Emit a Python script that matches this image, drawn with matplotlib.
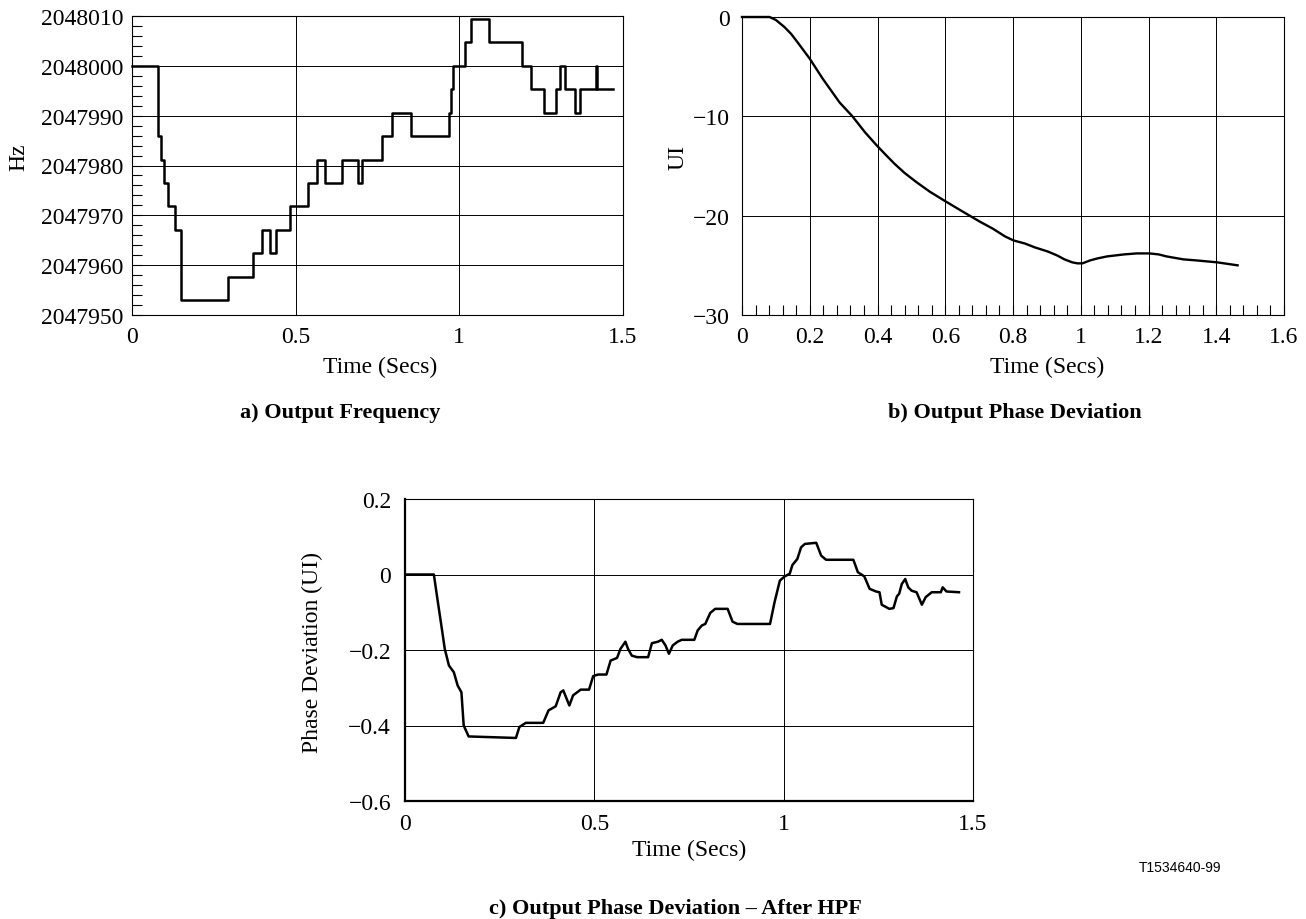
import matplotlib.pyplot as plt
from matplotlib.ticker import FuncFormatter, MultipleLocator

# a) output frequency: step changes (start time, frequency)
freq_t = [0.0, 0.078, 0.0899, 0.0963, 0.1092, 0.1323, 0.1503, 0.2928, 0.3699,
          0.3981, 0.4212, 0.4392, 0.4841, 0.5368, 0.5638, 0.5882, 0.6421, 0.6896,
          0.7025, 0.7641, 0.7937, 0.8527, 0.9683, 0.9747, 0.9811, 1.0158, 1.0364,
          1.0903, 1.1905, 1.2187, 1.2573, 1.2958, 1.3073, 1.3215, 1.3536, 1.3677,
          1.4178, 1.4195, 1.4704]
freq_hz = [2048000, 2047985.9, 2047981.2, 2047976.5, 2047971.8, 2047967.1,
           2047953.0, 2047957.7, 2047962.4, 2047967.1, 2047962.4, 2047967.1,
           2047971.8, 2047976.5, 2047981.2, 2047976.5, 2047981.2, 2047976.5,
           2047981.2, 2047985.9, 2047990.6, 2047985.9, 2047990.6, 2047995.3,
           2048000, 2048004.7, 2048009.4, 2048004.7, 2048000, 2047995.3,
           2047990.6, 2047995.3, 2048000, 2047995.3, 2047990.6, 2047995.3,
           2048000, 2047995.3, 2047995.3]

# b) output phase deviation (UI)
phase_t = [0.0, 0.0815, 0.100, 0.125, 0.145, 0.163, 0.2, 0.238, 0.263, 0.288,
           0.326, 0.363, 0.397, 0.425, 0.451, 0.480, 0.514, 0.555, 0.598, 0.652,
           0.702, 0.740, 0.777, 0.802, 0.835, 0.865, 0.902, 0.930, 0.952, 0.975,
           0.990, 1.005, 1.028, 1.050, 1.078, 1.128, 1.165, 1.203, 1.230, 1.253,
           1.303, 1.340, 1.403, 1.463]
phase_ui = [0.0, 0.0, -0.3, -1.0, -1.7, -2.5, -4.2, -6.2, -7.4, -8.6,
            -10.0, -11.6, -12.9, -13.9, -14.8, -15.7, -16.6, -17.6, -18.5, -19.6,
            -20.6, -21.3, -22.1, -22.5, -22.8, -23.2, -23.6, -24.0, -24.4, -24.7,
            -24.8, -24.8, -24.5, -24.3, -24.1, -23.9, -23.8, -23.8, -23.9, -24.1,
            -24.4, -24.5, -24.7, -25.0]

# c) phase deviation after high-pass filter
hpf_t = [0.0, 0.0762, 0.0868, 0.096, 0.105, 0.116, 0.129, 0.139, 0.149, 0.155,
         0.168, 0.293, 0.302, 0.319, 0.365, 0.379, 0.398, 0.411, 0.418, 0.434,
         0.444, 0.464, 0.486, 0.497, 0.510, 0.532, 0.543, 0.560, 0.569, 0.582,
         0.589, 0.599, 0.613, 0.642, 0.652, 0.668, 0.678, 0.688, 0.697, 0.707,
         0.720, 0.731, 0.764, 0.773, 0.784, 0.793, 0.806, 0.819, 0.852, 0.865,
         0.878, 0.964, 0.976, 0.990, 1.003, 1.016, 1.023, 1.036, 1.046, 1.056,
         1.086, 1.099, 1.112, 1.184, 1.196, 1.213, 1.227, 1.244, 1.253, 1.259,
         1.279, 1.290, 1.299, 1.305, 1.312, 1.321, 1.329, 1.338, 1.351, 1.365,
         1.375, 1.391, 1.415, 1.420, 1.430, 1.463]
hpf_ui = [0.0, 0.0, -0.073, -0.135, -0.197, -0.241, -0.259, -0.294, -0.312, -0.40,
          -0.429, -0.433, -0.404, -0.393, -0.393, -0.36, -0.349, -0.312, -0.307, -0.347,
          -0.320, -0.305, -0.305, -0.269, -0.265, -0.265, -0.228, -0.221, -0.197, -0.178,
          -0.197, -0.215, -0.219, -0.219, -0.182, -0.178, -0.173, -0.188, -0.21, -0.188,
          -0.178, -0.173, -0.173, -0.148, -0.135, -0.131, -0.102, -0.091, -0.091, -0.125,
          -0.131, -0.131, -0.073, -0.016, -0.005, 0.002, 0.025, 0.041, 0.072, 0.081,
          0.084, 0.050, 0.039, 0.039, 0.006, -0.005, -0.038, -0.045, -0.047, -0.080,
          -0.091, -0.089, -0.058, -0.051, -0.025, -0.012, -0.034, -0.043, -0.047, -0.080,
          -0.060, -0.047, -0.047, -0.034, -0.045, -0.047]

W, H = 1306, 920
FS = 17

plt.rcParams['font.family'] = ['Liberation Serif', 'DejaVu Serif']


def box(left, top, right, bottom):
    return [left / W, 1 - bottom / H, (right - left) / W, (bottom - top) / H]


def put(x, y, s, **kw):
    fig.text(x / W, 1 - y / H, s, ha='center', va='center', **kw)


def fmt(v, pos):
    return f'{v:g}'.replace('-', '\u2212')


def style(ax):
    for sp in ax.spines.values():
        sp.set_linewidth(0.8)
        sp.set_color('black')
    ax.grid(True, color='black', linewidth=0.7)
    ax.set_axisbelow(True)
    ax.tick_params(labelsize=FS, colors='black', length=0, pad=6)


fig = plt.figure(figsize=(W / 100, H / 100), dpi=100)

# a) Output Frequency
ax1 = fig.add_axes(box(132, 17, 623, 316))
style(ax1)
ax1.step(freq_t, freq_hz, where='post', color='black', linewidth=1.8,
         clip_on=False)
ax1.set_xlim(0, 1.5)
ax1.set_ylim(2047950, 2048010)
ax1.xaxis.set_major_locator(MultipleLocator(0.5))
ax1.yaxis.set_major_locator(MultipleLocator(10))
ax1.yaxis.set_minor_locator(MultipleLocator(2))
ax1.yaxis.set_major_formatter(FuncFormatter(lambda v, p: f'{v:.0f}'))
ax1.xaxis.set_major_formatter(FuncFormatter(fmt))
ax1.tick_params(axis='y', which='both', direction='in', length=7, width=0.8)
ax1.tick_params(axis='x', which='both', length=0, pad=8)

# b) Output Phase Deviation
ax2 = fig.add_axes(box(742, 18, 1284, 316))
style(ax2)
ax2.plot(phase_t, phase_ui, color='black', linewidth=1.7, clip_on=False,
         solid_joinstyle='round')
ax2.set_xlim(0, 1.6)
ax2.set_ylim(-30, 0)
ax2.xaxis.set_major_locator(MultipleLocator(0.2))
ax2.xaxis.set_minor_locator(MultipleLocator(0.04))
ax2.yaxis.set_major_locator(MultipleLocator(10))
ax2.xaxis.set_major_formatter(FuncFormatter(fmt))
ax2.yaxis.set_major_formatter(FuncFormatter(fmt))
ax2.tick_params(axis='x', which='both', direction='in', length=7, width=0.8, pad=8)
ax2.tick_params(axis='y', pad=9)

# c) Output Phase Deviation - After HPF
ax3 = fig.add_axes(box(405, 500, 973, 802))
style(ax3)
ax3.spines['left'].set_linewidth(1.6)
ax3.spines['bottom'].set_linewidth(1.6)
ax3.plot(hpf_t, hpf_ui, color='black', linewidth=1.8, solid_joinstyle='round')
ax3.set_xlim(0, 1.5)
ax3.set_ylim(-0.6, 0.2)
ax3.xaxis.set_major_locator(MultipleLocator(0.5))
ax3.yaxis.set_major_locator(MultipleLocator(0.2))
ax3.xaxis.set_major_formatter(FuncFormatter(fmt))
ax3.yaxis.set_major_formatter(FuncFormatter(fmt))
ax3.tick_params(axis='x', pad=9)
ax3.tick_params(axis='y', pad=10)

put(19, 157, 'Hz', fontsize=FS, rotation=90)
put(380, 367, 'Time (Secs)', fontsize=FS)
put(340, 413, 'a) Output Frequency', fontsize=FS - 1, fontweight='bold')

put(678, 157, 'UI', fontsize=FS, rotation=90)
put(1047, 367, 'Time (Secs)', fontsize=FS)
put(1015, 413, 'b) Output Phase Deviation', fontsize=FS - 1, fontweight='bold')

put(312, 653, 'Phase Deviation (UI)', fontsize=FS, rotation=90)
put(689, 850, 'Time (Secs)', fontsize=FS)
put(675, 909, 'c) Output Phase Deviation \u2013 After HPF', fontsize=FS - 1,
    fontweight='bold')

put(1180, 868, 'T1534640-99', fontsize=10, family=['Liberation Sans'])

fig.savefig('out.png', dpi=100)
